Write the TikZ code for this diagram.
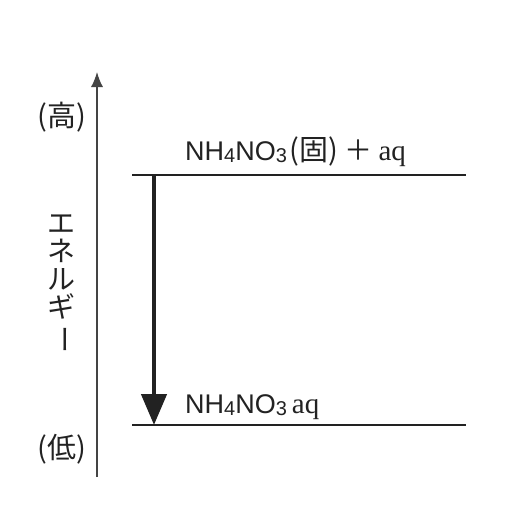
\documentclass[tikz,border=0pt]{standalone}
\usepackage{fontspec}
\usepackage{graphicx}
\usetikzlibrary{arrows.meta}
\setmainfont{Liberation Serif}
\newfontfamily\latsans{Liberation Sans}
\newfontfamily\cjk{Noto Sans CJK JP}
\definecolor{ink}{HTML}{222222}
\definecolor{axisgray}{HTML}{444444}
\newcommand{\chemsub}[1]{\raisebox{-2pt}{\fontsize{20}{20}\selectfont #1}}
\begin{document}
\begin{tikzpicture}[x=1pt,y=-1pt,
  level/.style={draw=ink,line width=1.1pt},
  axisline/.style={draw=axisgray,line width=1.3pt,-{Latex[length=15pt,width=12pt]}},
  bigarrow/.style={draw=ink,line width=4.5pt,-{Triangle[length=31pt,width=25pt]}},
  chemlabel/.style={anchor=base west,inner sep=0pt,text=ink},
  sidelabel/.style={inner sep=0pt,text=ink,font=\cjk\fontsize{29}{29}\selectfont},
  vertlabel/.style={inner sep=0pt,text=ink,align=center,font=\cjk\fontsize{28}{28}\selectfont}]
\useasboundingbox (0,0) rectangle (520,530);
\fill[white] (0,0) rectangle (520,530);
% axis
\coordinate (axb) at (97,477);
\coordinate (axt) at (97,72);
\draw[axisline] (axb) -- (axt);
% levels
\coordinate (hiL) at (132,175);
\coordinate (hiR) at (466,175);
\coordinate (loL) at (132,425);
\coordinate (loR) at (466,425);
\draw[level] (hiL) -- (hiR);
\draw[level] (loL) -- (loR);
% big arrow
\coordinate (aS) at (154,175);
\coordinate (aE) at (154,425);
\draw[bigarrow] (aS) -- (aE);
% labels
\node[chemlabel] (hiText) at (185,160) {{\latsans\fontsize{27}{27}\selectfont NH\chemsub{4}NO\chemsub{3}}\hspace{3pt}{\cjk\fontsize{29}{29}\selectfont (固)}\hspace{6pt}{\cjk\fontsize{28}{28}\selectfont ＋}\hspace{6pt}{\fontsize{29}{29}\selectfont aq}};
\node[chemlabel] (loText) at (185,413) {{\latsans\fontsize{27}{27}\selectfont NH\chemsub{4}NO\chemsub{3}}\hspace{5pt}{\fontsize{29}{29}\selectfont aq}};
\node[sidelabel] (hiSide) at (62,117) {(高)};
\node[sidelabel] (loSide) at (62,449) {(低)};
\node[vertlabel] (energy) at (61,284) {エ\\ネ\\ル\\ギ\\\rotatebox[origin=c]{-90}{ー}};
\end{tikzpicture}
\end{document}
